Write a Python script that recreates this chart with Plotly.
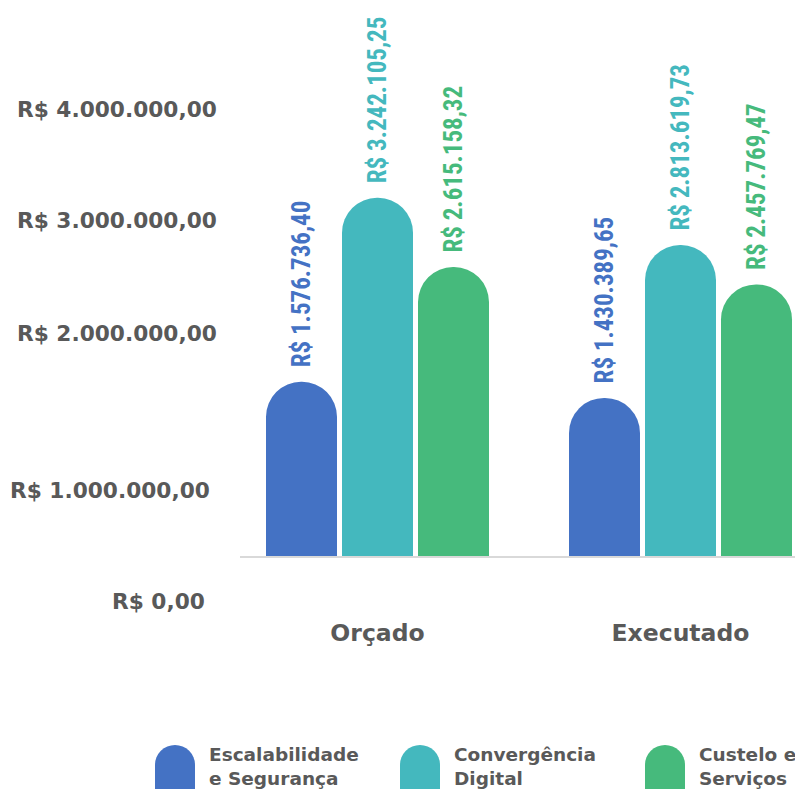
import plotly.graph_objects as go

# ---------------- data ----------------
categories = ["Orçado", "Executado"]
series_names = ["Escalabilidade e Segurança", "Convergência Digital", "Custelo e Serviços"]
legend_labels = ["Escalabilidade<br>e Segurança", "Convergência<br>Digital", "Custelo e<br>Serviços"]
escalabilidade = [1576736.40, 1430389.65]
convergencia = [3242105.25, 2813619.73]
custelo = [2615158.32, 2457769.47]
y_tick_labels = ["R$ 0,00", "R$ 1.000.000,00", "R$ 2.000.000,00", "R$ 3.000.000,00", "R$ 4.000.000,00"]

# ---------------- layout / style ----------------
colors = ["#4472C4", "#44B8BE", "#46BA7C"]
gray = "#595959"
W, H = 803, 789
OFF = 8                  # page offset of the figure (body margin)
L, R, T = 232, 8, 4
BASE = 556 - OFF         # baseline row in figure pixels
B = H - BASE
PW, PH = W - L - R, H - T - B
PX_PER_UNIT = 110.5e-6   # pixels per R$
y_max = PH / PX_PER_UNIT

# page positions of the free-floating y labels: (right edge px, centre px)
y_label_pos = [(207, 601), (212, 490), (219, 333), (219, 221), (219, 109)]
legend_icon_x = [155, 400, 645]
legend_text_x = [207, 452, 697]


def brl(v):
    s = f"{v:,.2f}"
    return "R$ " + s.replace(",", "X").replace(".", ",").replace("X", ".")


def px_x(p):  # page px -> paper
    return (p - OFF - L) / PW


def px_y(p):
    return (BASE - (p - OFF)) / PH


fig = go.Figure()
for name, vals, col in zip(series_names, [escalabilidade, convergencia, custelo], colors):
    fig.add_trace(go.Bar(
        name=name, x=categories, y=vals,
        marker=dict(color=col, line=dict(width=0)),
        text=["\u00a0\u00a0" + brl(v) for v in vals],
        textposition="outside", textangle=-90, constraintext="none",
        cliponaxis=False,
        textfont=dict(family="Roboto Condensed, Liberation Sans Narrow, Arial Narrow, Roboto",
                      size=25, color=col, weight="bold"),
        hoverinfo="skip",
    ))

annotations = []
for txt, (xr, yc) in zip(y_tick_labels, y_label_pos):
    annotations.append(dict(
        text=txt, xref="paper", yref="paper", x=px_x(xr), y=px_y(yc),
        xanchor="right", yanchor="middle", showarrow=False,
        font=dict(family="DejaVu Sans", size=21.7, color=gray, weight="bold"),
    ))

shapes = []
r_icon = 20
for lbl, ix, tx, col in zip(legend_labels, legend_icon_x, legend_text_x, colors):
    top = 745
    shapes.append(dict(type="circle", xref="paper", yref="paper",
                       x0=px_x(ix), x1=px_x(ix + 2 * r_icon),
                       y0=px_y(top + 2 * r_icon), y1=px_y(top),
                       fillcolor=col, line=dict(width=0), layer="above"))
    shapes.append(dict(type="rect", xref="paper", yref="paper",
                       x0=px_x(ix), x1=px_x(ix + 2 * r_icon),
                       y0=px_y(top + r_icon), y1=px_y(H + 20),
                       fillcolor=col, line=dict(width=0), layer="above"))
    annotations.append(dict(
        text=lbl, xref="paper", yref="paper", x=px_x(tx), y=px_y(766),
        xanchor="left", yanchor="middle", align="left", showarrow=False,
        font=dict(family="DejaVu Sans", size=18.5, color=gray, weight="bold"),
    ))

fig.update_layout(
    width=W, height=H,
    margin=dict(l=L, r=R, t=T, b=B, pad=0),
    paper_bgcolor="white", plot_bgcolor="white",
    barmode="group", bargap=0.2475, bargroupgap=0.0658,
    barcornerradius="50%",
    showlegend=False,
    annotations=annotations,
    shapes=shapes,
    xaxis=dict(
        type="category", range=[-0.4538, 1.4043],
        showline=True, linecolor="#D9D9D9", linewidth=2,
        showgrid=False, ticks="", ticklabelstandoff=55,
        tickfont=dict(family="DejaVu Sans", size=23.5, color=gray, weight="bold"),
        fixedrange=True,
    ),
    yaxis=dict(
        range=[0, y_max], showticklabels=False, showgrid=False,
        zeroline=False, showline=False, fixedrange=True,
    ),
)

fig.write_html("out.html")
